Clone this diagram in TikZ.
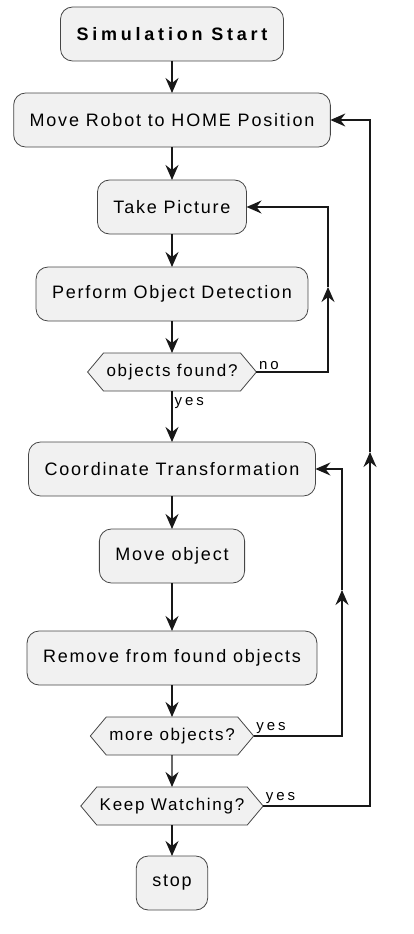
\documentclass[tikz,border=0pt]{standalone}
\usepackage{fontspec}
\setmainfont{Liberation Sans}[LetterSpace=10]
\newfontfamily\titlefont{Liberation Sans}[LetterSpace=21]
\newfontfamily\labelfont{Liberation Sans}[LetterSpace=20]
\definecolor{myfill}{RGB}{241,241,241}
\definecolor{myline}{RGB}{24,24,24}
\usetikzlibrary{arrows.meta,positioning,shapes.symbols}

\begin{document}
\begin{tikzpicture}[
  x=1pt,y=1pt,
  node distance=32pt,
  myact/.style={
    draw=myline!80,
    fill=myfill,
    line width=0.8pt,
    outer sep=0pt,
    rounded corners=12pt,
    minimum height=54pt,
    inner xsep=16pt,
    font=\fontsize{18}{21}\selectfont
    },
  mychoice/.style={
    draw=myline!80,
    fill=myfill,
    line width=0.8pt,
    outer sep=0pt,
    signal,
    signal to=west and east,
    signal pointer angle=100,
    minimum height=38pt,
    inner xsep=3pt,
    font=\fontsize{17}{19}\selectfont
    },
  mylabel/.style={
    inner sep=2pt,
    font=\labelfont\fontsize{15}{17}\selectfont
    },
  flow/.style={
    draw=myline,
    line width=1.3pt,
    -{Stealth[length=15pt,width=13pt,inset=5pt]}
    }
]
\useasboundingbox (0,0) rectangle (413,-934);

\node[myact, font=\titlefont\bfseries\fontsize{18}{21}\selectfont]
  (start) at (172,-34) {Simulation Start};
\node[myact] (home) [below=of start] {Move Robot to HOME Position};
\node[myact] (take) [below=33pt of home] {Take Picture};
\node[myact] (detect) [below=33pt of take] {Perform Object Detection};
\node[mychoice] (found) [below=of detect] {objects found?};
\node[myact] (coord) [below=51pt of found] {Coordinate Transformation};
\node[myact] (move) [below=33pt of coord] {Move object};
\node[myact] (remove) [below=48pt of move] {Remove from found objects};
\node[mychoice] (more) [below=of remove] {more objects?};
\node[mychoice] (keep) [below=of more] {Keep Watching?};
\node[myact] (stop) [below=31pt of keep] {stop};

\coordinate (nomid) at (328,-287);
\coordinate (moremid) at (342,-590);
\coordinate (keepmid) at (370,-452);

\foreach \from/\to in {start/home, home/take, take/detect, detect/found,
  coord/move, move/remove, remove/more, more/keep, keep/stop}
  \draw[flow] (\from) -- (\to);

\draw[flow] (found) -- node[mylabel, right, pos=0.24] {yes} (coord);

\draw[flow] (found.east) node[mylabel, above right] {no} -| (nomid);
\draw[flow] (nomid) |- (take.east);

\draw[flow] (more.east) node[mylabel, above right] {yes} -| (moremid);
\draw[flow] (moremid) |- (coord.east);

\draw[flow] (keep.east) node[mylabel, above right] {yes} -| (keepmid);
\draw[flow] (keepmid) |- (home.east);
\end{tikzpicture}
\end{document}
